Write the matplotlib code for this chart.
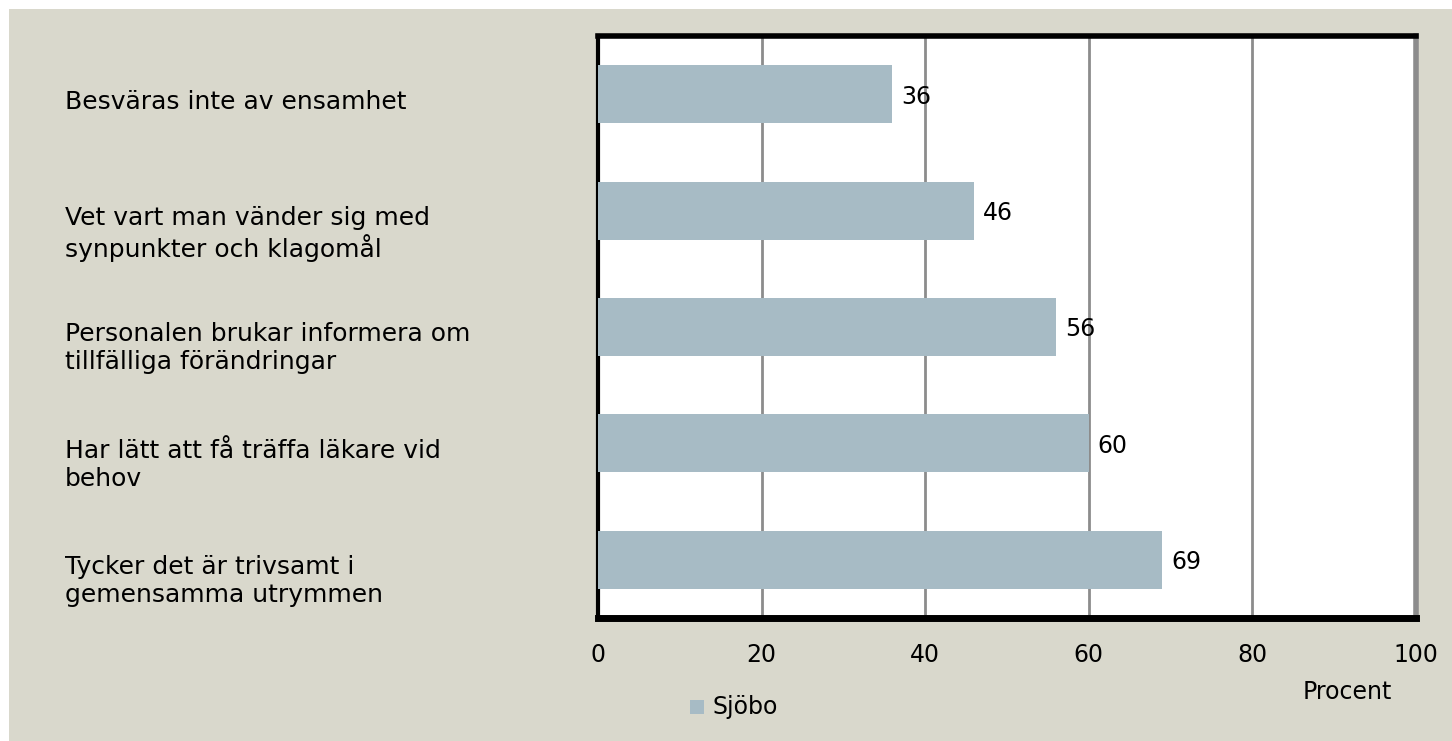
import matplotlib.pyplot as plt
import matplotlib.transforms as mtransforms
from matplotlib.patches import Rectangle

# data
categories = [
    "Besväras inte av ensamhet",
    "Vet vart man vänder sig med\nsynpunkter och klagomål",
    "Personalen brukar informera om\ntillfälliga förändringar",
    "Har lätt att få träffa läkare vid\nbehov",
    "Tycker det är trivsamt i\ngemensamma utrymmen",
]
values = [36, 46, 56, 60, 69]
series_name = "Sjöbo"
xticks = [0, 20, 40, 60, 80, 100]

bg = "#D9D8CC"
bar_color = "#A7BBC5"

plt.rcParams['font.family'] = ['DejaVu Sans']

fig = plt.figure(figsize=(14.52, 7.41), dpi=100, facecolor="white")
fig.patches.append(Rectangle((9 / 1452, 0), 1, 1 - 9 / 741, transform=fig.transFigure,
                             facecolor=bg, edgecolor="none", zorder=-10))

ax = fig.add_axes([598 / 1452, 123 / 741, 818 / 1452, 582 / 741])
ax.set_facecolor("white")

y = list(range(len(categories)))
ax.barh(y, values, height=0.5, color=bar_color, zorder=3)
ax.set_xlim(0, 100)
ax.set_ylim(len(categories) - 0.5, -0.5)
ax.set_xticks(xticks)
ax.set_xticklabels([str(t) for t in xticks], fontsize=17)
ax.tick_params(axis='x', length=0, pad=18)
ax.set_yticks([])
ax.grid(axis='x', color="#8C8C8C", linewidth=2, zorder=1)

for side in ['top', 'bottom', 'left']:
    ax.spines[side].set_color("black")
ax.spines['top'].set_linewidth(4)
ax.spines['bottom'].set_linewidth(5)
ax.spines['left'].set_linewidth(3)
ax.spines['right'].set_color("#8C8C8C")
ax.spines['right'].set_linewidth(4)

for yi, v in zip(y, values):
    ax.text(v + 1.1, yi + 0.02, str(v), va='center', ha='left', fontsize=17, zorder=4)

# category labels: x in figure coords, y in data coords
trans = mtransforms.blended_transform_factory(fig.transFigure, ax.transData)
for yi, lab in zip(y, categories):
    ax.text(65 / 1452, yi - 0.04, lab, transform=trans, clip_on=False,
            fontsize=18, va='top', ha='left', linespacing=1.2)

fig.text(1347 / 1452, 1 - 692 / 741, "Procent", fontsize=17, ha='center', va='center')
fig.patches.append(Rectangle((690 / 1452, 1 - 714 / 741), 14 / 1452, 14 / 741,
                             transform=fig.transFigure, facecolor=bar_color,
                             edgecolor="none"))
fig.text(712 / 1452, 1 - 707 / 741, series_name, fontsize=17, ha='left', va='center')

fig.savefig("out.png", dpi=100, facecolor=fig.get_facecolor())
